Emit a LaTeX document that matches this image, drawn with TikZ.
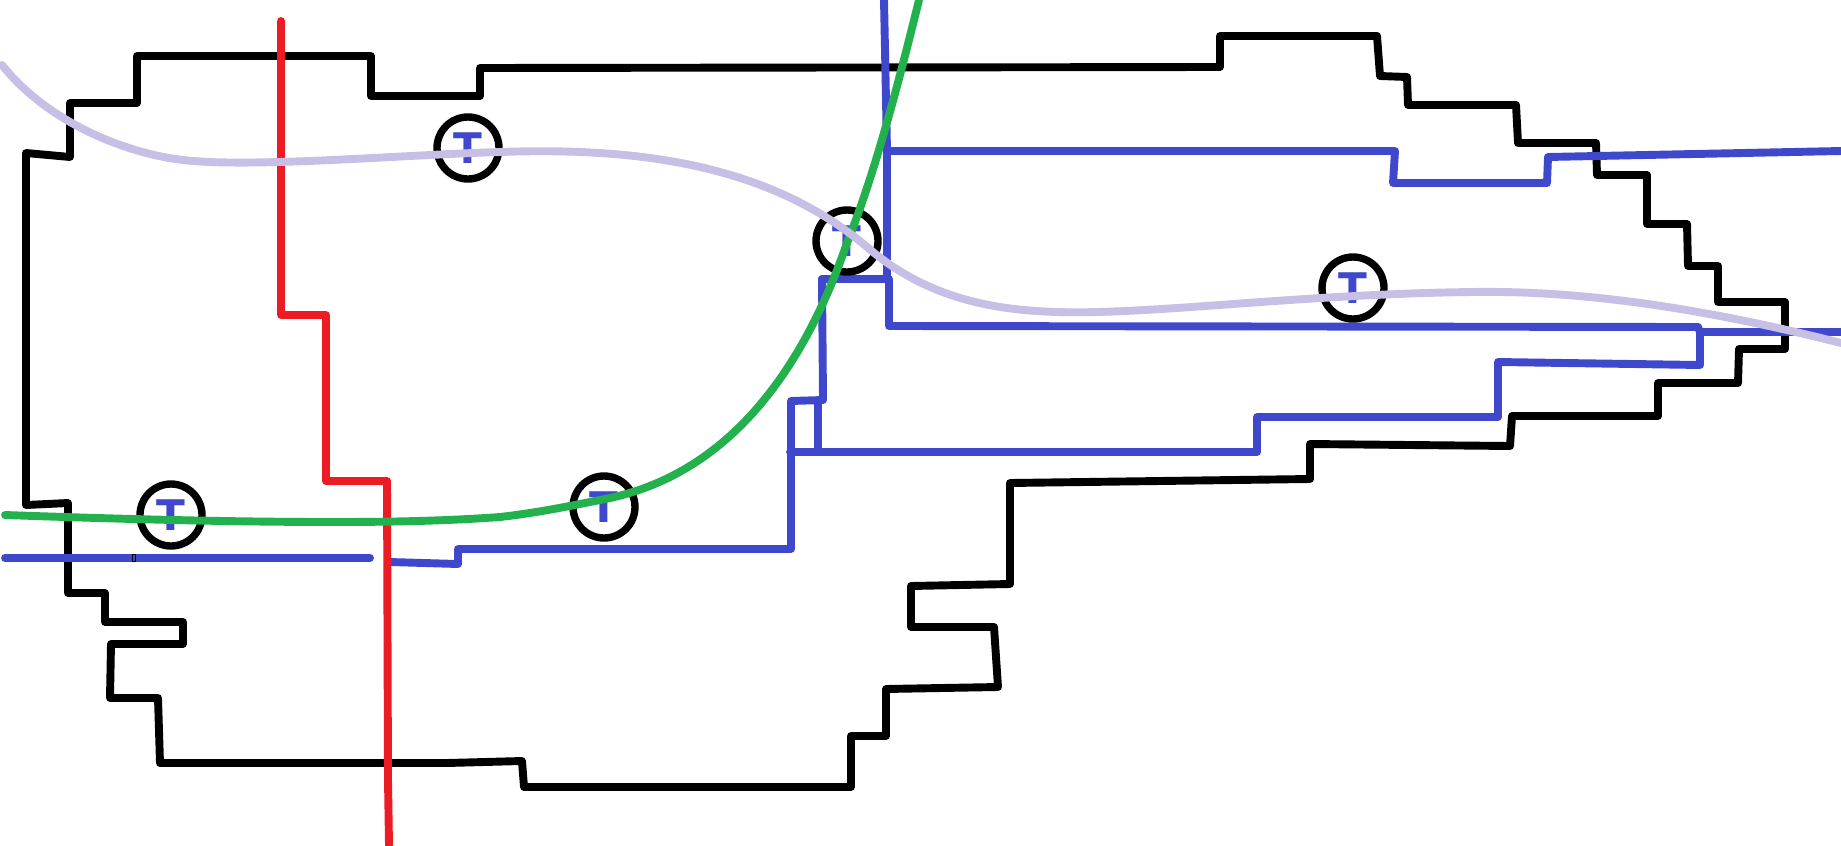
\documentclass[tikz,border=0pt]{standalone}
\usepackage{fontspec}
\usepackage{tikz}
\newfontfamily\markerfont{DejaVu Sans}
\definecolor{mapblue}{RGB}{63,72,204}
\definecolor{mapred}{RGB}{237,28,36}
\definecolor{mapgreen}{RGB}{34,177,76}
\definecolor{maplilac}{RGB}{200,191,231}
\tikzset{
  stroke/.style={line width=4.5pt, line join=round, line cap=round},
  marker/.style={circle, draw=black, line width=4.2pt, minimum size=12.4mm, inner sep=0pt,
    text=mapblue, font=\markerfont\bfseries\fontsize{24}{24}\selectfont}
}
\begin{document}
\begin{tikzpicture}[x=0.02cm, y=-0.02cm]
\useasboundingbox (0,0) rectangle (1841,845);
% Outline
\draw[stroke, black] (26,505) -- (26,153) -- (70,157) -- (70,103) -- (137,103) -- (137,56) -- (371,56) -- (371,96) -- (480,96) -- (480,68) -- (1220,67) -- (1220,36) -- (1377,36) -- (1380,76) -- (1407,77) -- (1408,105) -- (1516,105) -- (1518,143) -- (1596,143) -- (1597,175) -- (1647,175) -- (1647,224) -- (1687,224) -- (1688,266) -- (1718,266) -- (1718,302) -- (1785,302) -- (1785,349) -- (1739,349) -- (1738,383) -- (1658,383) -- (1658,416) -- (1512,416) -- (1510,446) -- (1310,444) -- (1310,479) -- (1010,483) -- (1010,584) -- (911,586) -- (911,627) -- (994,627) -- (998,687) -- (886,689) -- (886,736) -- (851,736) -- (851,787) -- (524,787) -- (522,761) -- (447,763) -- (160,763) -- (158,698) -- (110,698) -- (111,644) -- (183,644) -- (183,622) -- (105,622) -- (105,593) -- (68,593) -- (68,503) -- cycle;
% Blue lines
\draw[stroke, mapblue] (884,0) -- (887,151) -- (887,279);
\draw[stroke, mapblue] (1841,151) -- (1548,157) -- (1547,183) -- (1393,183) -- (1395,151) -- (887,151);
\draw[stroke, mapblue] (822,279) -- (889,279) -- (889,326) -- (1698,327) -- (1700,332) -- (1841,332);
\draw[stroke, mapblue] (1700,332) -- (1700,365) -- (1498,362) -- (1498,417) -- (1257,417) -- (1257,452) -- (818,452);
\draw[stroke, mapblue] (822,279) -- (823,400) -- (791,401) -- (791,549) -- (458,549) -- (458,564) -- (390,562);
\draw[stroke, mapblue] (818,401) -- (818,452) -- (790,452);
\draw[stroke, mapblue] (5,558) -- (370,558);
\draw[black, line width=0.4pt] (132.5,554.5) rectangle (135.5,561.5);
% Red line
\draw[stroke, mapred] (281,21) -- (281,315) -- (326,315) -- (326,481) -- (387,481) -- (388,780) -- (389,845);
% Markers
\node[marker] (m1) at (171,515) {T};
\node[marker] (m2) at (468,148) {T};
\node[marker] (m3) at (604,507) {T};
\node[marker] (m4) at (847,241) {T};
\node[marker] (m5) at (1353,288) {T};
% Curves
\draw[stroke, mapgreen] (5,515) .. controls (120,519) and (230,522) .. (333,522) .. controls (390,522) and (445,521) .. (500,517) .. controls (535,513) and (565,507) .. (600,500) .. controls (740,475) and (810,350) .. (847,243) .. controls (875,173) and (898,85) .. (919,0);
\draw[stroke, maplilac] (2,65) .. controls (50,125) and (130,154) .. (183,160) .. controls (250,168) and (400,155) .. (500,152) .. controls (640,147) and (770,165) .. (867,247) .. controls (925,297) and (990,310) .. (1057,312) .. controls (1150,315) and (1300,294) .. (1473,292) .. controls (1600,290) and (1730,315) .. (1841,343);
\end{tikzpicture}
\end{document}
